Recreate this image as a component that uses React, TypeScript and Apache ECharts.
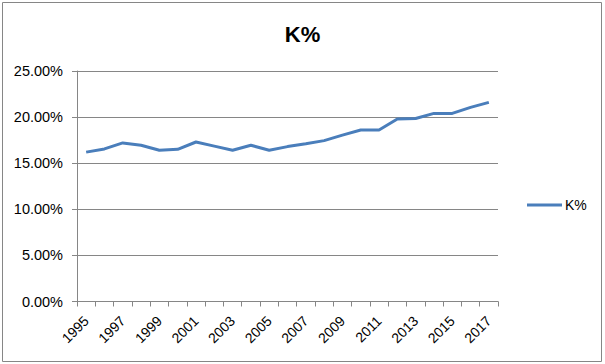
import React, { useEffect, useRef } from "react";
import * as echarts from "echarts";

const years = [
  "1995", "1996", "1997", "1998", "1999", "2000", "2001", "2002", "2003", "2004", "2005", "2006",
  "2007", "2008", "2009", "2010", "2011", "2012", "2013", "2014", "2015", "2016", "2017",
];
const kPct = [
  0.162, 0.1655, 0.172, 0.1695, 0.164, 0.165, 0.173, 0.1685, 0.164, 0.1695, 0.164, 0.168,
  0.171, 0.1745, 0.1805, 0.186, 0.186, 0.198, 0.1985, 0.204, 0.204, 0.2105, 0.216,
];
const seriesName = "K%";
const yTicks = { min: 0, max: 0.25, interval: 0.05 };

export default function App() {
  const ref = useRef<HTMLDivElement>(null);
  useEffect(() => {
    if (!ref.current) return;
    const chart = echarts.init(ref.current, null, { renderer: "svg" });
    const font = "'Liberation Sans', Arial, sans-serif";
    chart.setOption({
      animation: false,
      backgroundColor: "#ffffff",
      textStyle: { fontFamily: font },
      graphic: [
        {
          type: "rect",
          shape: { x: 2.5, y: 2.5, width: 599, height: 359 },
          style: { fill: "none", stroke: "#868686", lineWidth: 1 },
          silent: true,
        },
      ],
      title: {
        text: seriesName,
        left: "center",
        top: 18,
        textStyle: { fontFamily: font, fontSize: 22, fontWeight: "bold", color: "#000000" },
      },
      legend: {
        data: [seriesName],
        left: 527,
        top: 198,
        padding: 0,
        orient: "vertical",
        icon: "rect",
        itemWidth: 35,
        itemHeight: 3,
        itemGap: 4,
        textStyle: { fontFamily: font, fontSize: 14, color: "#000000", padding: [0, 0, 0, -2] },
      },
      grid: { left: 77, right: 107, top: 71, bottom: 62.5, containLabel: false },
      xAxis: {
        type: "category",
        data: years,
        boundaryGap: true,
        axisLine: { lineStyle: { color: "#868686", width: 1 } },
        axisTick: { show: true, interval: 0, length: 5, lineStyle: { color: "#868686" } },
        axisLabel: {
          interval: 1,
          rotate: 45,
          margin: 17,
          fontFamily: font,
          fontSize: 14,
          color: "#000000",
        },
        splitLine: { show: false },
      },
      yAxis: {
        type: "value",
        min: yTicks.min,
        max: yTicks.max,
        interval: yTicks.interval,
        axisLine: { show: true, lineStyle: { color: "#868686", width: 1 } },
        axisTick: { show: true, length: 5, lineStyle: { color: "#868686" } },
        axisLabel: {
          margin: 14,
          fontFamily: font,
          fontSize: 14.5,
          color: "#000000",
          formatter: (v: number) => (v * 100).toFixed(2) + "%",
        },
        splitLine: { show: true, lineStyle: { color: "#868686", width: 1 } },
      },
      series: [
        {
          name: seriesName,
          type: "line",
          data: kPct,
          symbol: "none",
          lineStyle: { color: "#4A7EBB", width: 3 },
          itemStyle: { color: "#4A7EBB" },
        },
      ],
    });
    return () => chart.dispose();
  }, []);
  return (
    <div
      ref={ref}
      style={{ position: "fixed", left: 0, top: 0, width: 605, height: 364, background: "#fff" }}
    />
  );
}
